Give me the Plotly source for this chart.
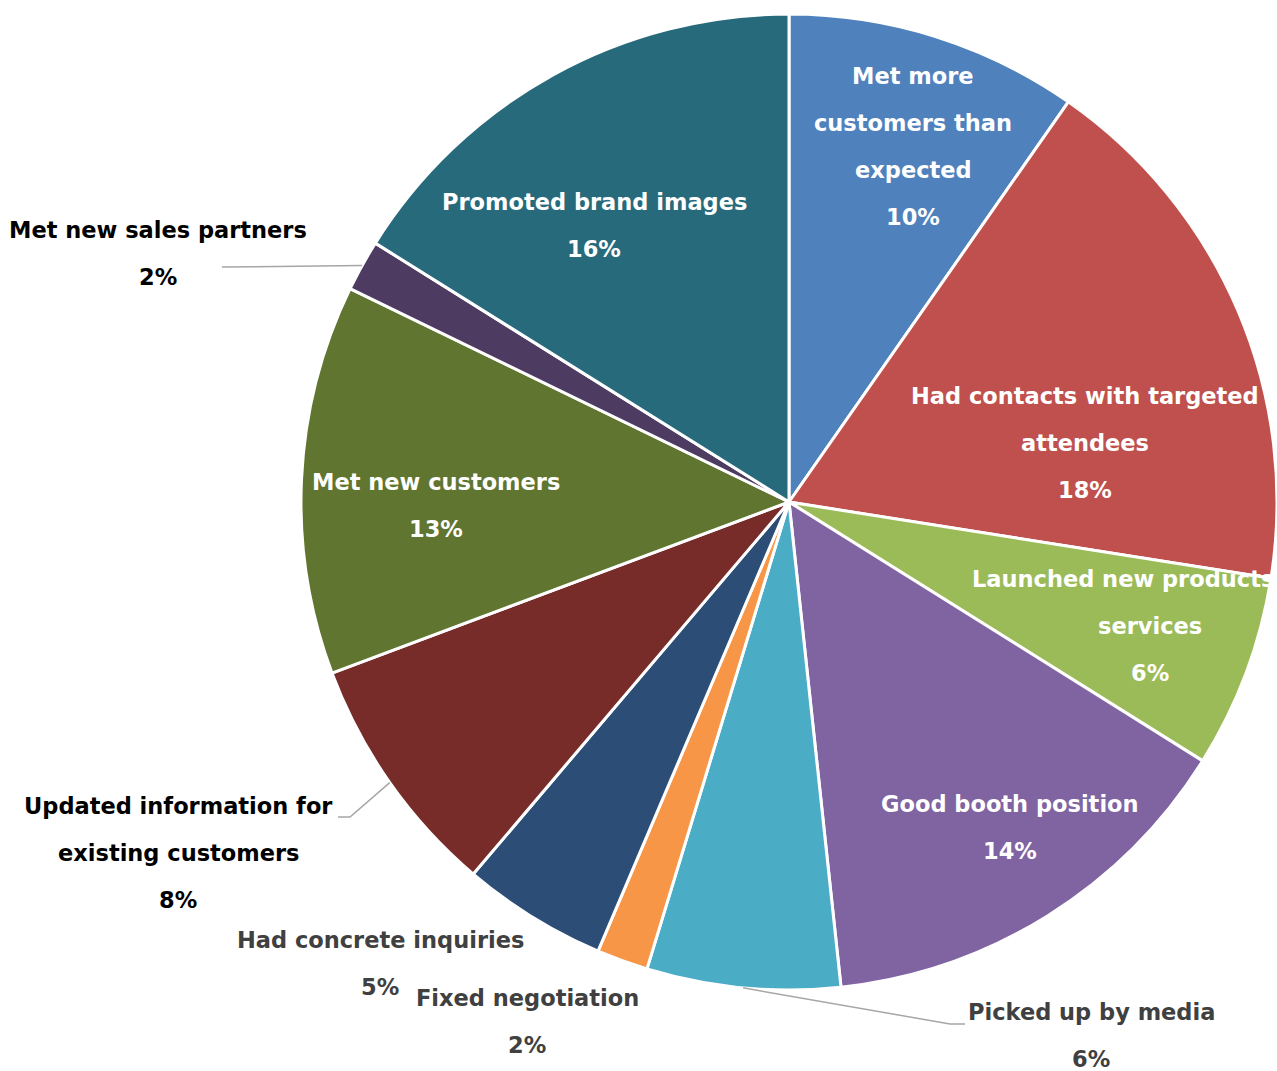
import math
import plotly.graph_objects as go

# ---------------- data ----------------
categories = [
    "Met more customers than expected",
    "Had contacts with targeted attendees",
    "Launched new products services",
    "Good booth position",
    "Picked up by media",
    "Fixed negotiation",
    "Had concrete inquiries",
    "Updated information for existing customers",
    "Met new customers",
    "Met new sales partners",
    "Promoted brand images",
]
values = [9.7, 17.8, 6.4, 14.4, 6.4, 1.7, 4.8, 8.1, 12.9, 1.7, 16.1]

label_lines = [
    ["Met more", "customers than", "expected"],
    ["Had contacts with targeted", "attendees"],
    ["Launched new products", "services"],
    ["Good booth position"],
    ["Picked up by media"],
    ["Fixed negotiation"],
    ["Had concrete inquiries"],
    ["Updated information for", "existing customers"],
    ["Met new customers"],
    ["Met new sales partners"],
    ["Promoted brand images"],
]

# ---------------- styles / layout ----------------
colors = ["#4F81BD", "#C0504D", "#9BBB59", "#8064A2", "#4BACC6", "#F79646",
          "#2C4D75", "#772C2A", "#5F7530", "#4D3B62", "#276A7C"]
text_colors = ["white", "white", "white", "white", "#404040", "#404040",
               "#404040", "#000000", "white", "#000000", "white"]
# first-line centre of each label (pixels from top-left)
label_pos = [(913, 76), (1085, 396), (1150, 579), (1010, 804), (1091, 1012),
             (527, 998), (381, 940), (178, 806), (436, 482), (158, 230), (594, 202)]
line_x_override = {(2, 0): 1123, (6, 1): 380}
LINE_GAP = 47
FONT = "DejaVu Sans"
FS = 22.5

# leader lines: bend and end points (pixels) for outside labels
leaders = {
    9: [(222, 267)],
    7: [(350, 817), (338, 817)],
    4: [(950, 1024), (965, 1024)],
}

W, H = 1277, 1071
CX, CY, R = 789, 502, 488

fig = go.Figure(go.Pie(
    labels=categories,
    values=values,
    sort=False,
    direction="clockwise",
    rotation=0,
    marker=dict(colors=colors, line=dict(color="white", width=3)),
    textinfo="none",
    hoverinfo="label+percent",
    showlegend=False,
    domain=dict(x=[(CX - R) / W, min(1.0, (CX + R) / W)],
                y=[(H - (CY + R)) / H, (H - (CY - R)) / H]),
))

def px(x):
    return x / W

def py(y):
    return 1 - y / H

total = sum(values)
annotations = []
for i, (cat, v) in enumerate(zip(categories, values)):
    pct = f"{round(v / total * 100)}%"
    lines = label_lines[i] + [pct]
    x0, y0 = label_pos[i]
    for j, ln in enumerate(lines):
        lx = line_x_override.get((i, j), x0)
        annotations.append(dict(
            x=px(lx), y=py(y0 + j * LINE_GAP), xref="paper", yref="paper",
            text=f"<b>{ln}</b>", showarrow=False, xanchor="center", yanchor="middle",
            font=dict(family=FONT, size=FS, color=text_colors[i]),
        ))

shapes = []
cum = 0.0
for i, v in enumerate(values):
    mid = (cum + v / 2) / total * 2 * math.pi
    cum += v
    if i in leaders:
        ex = CX + R * math.sin(mid)
        ey = CY - R * math.cos(mid)
        pts = [(ex, ey)] + leaders[i]
        path = "M " + " L ".join(f"{px(a):.5f},{py(b):.5f}" for a, b in pts)
        shapes.append(dict(type="path", path=path, xref="paper", yref="paper",
                           line=dict(color="#A6A6A6", width=1.5)))

fig.update_layout(
    width=W, height=H, autosize=False,
    margin=dict(l=0, r=0, t=0, b=0),
    paper_bgcolor="white", plot_bgcolor="white",
    annotations=annotations, shapes=shapes,
)

fig.write_html("out.html", config={"displayModeBar": False},
               post_script="document.body.style.margin='0';")
